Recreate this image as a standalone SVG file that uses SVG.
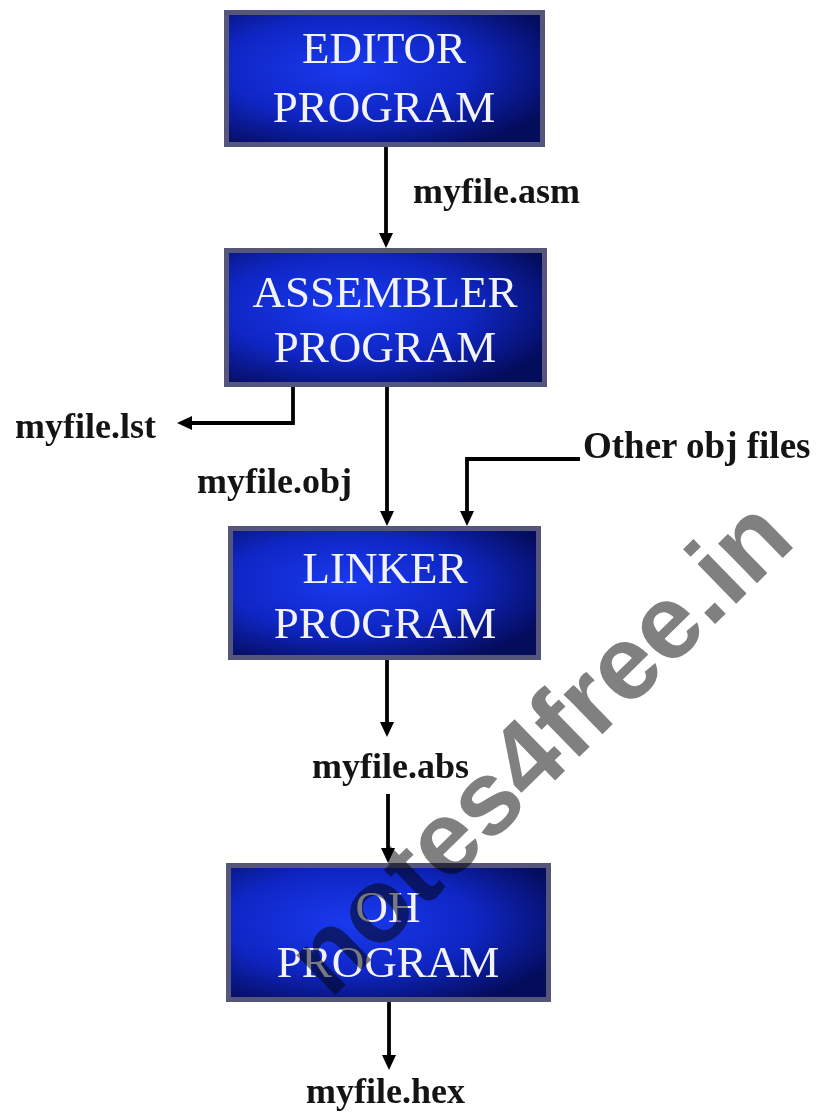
<svg xmlns="http://www.w3.org/2000/svg" width="820" height="1112" viewBox="0 0 820 1112">
<style>
.frame{fill:#56567a}
.inner{fill:url(#blue)}
.bt{font-family:"Liberation Serif","Times New Roman",serif;font-size:45px;fill:#f3f3f7;text-anchor:middle}
.lbl{font-family:"Liberation Serif","Times New Roman",serif;font-size:36px;font-weight:bold;fill:#141414}
.con{fill:none;stroke:#000;stroke-width:3.8;stroke-linejoin:miter}
.wm{font-family:"Liberation Sans",Arial,sans-serif;font-size:105px;font-weight:bold;fill:#808080;mix-blend-mode:multiply}
</style>
<defs>
<radialGradient id="blue" cx="0.38" cy="0.42" r="0.72">
<stop offset="0" stop-color="#1a3af0"/>
<stop offset="0.55" stop-color="#0f26c4"/>
<stop offset="1" stop-color="#040c5c"/>
</radialGradient>
<marker id="ah" markerUnits="userSpaceOnUse" markerWidth="15" markerHeight="15" viewBox="0 0 15 15" refX="1" refY="7.5" orient="auto">
<path d="M0,0.5 L15,7.5 L0,14.5 z" fill="#000"/>
</marker>
</defs>
<rect width="820" height="1112" fill="#fff"/>
<g id="editor">
<rect class="frame" x="224" y="10" width="321" height="137"/>
<rect class="inner" x="229" y="15" width="311" height="127"/>
<text class="bt" x="384" y="63">EDITOR</text>
<text class="bt" x="384" y="122">PROGRAM</text>
</g>
<g id="assembler">
<rect class="frame" x="224" y="248" width="323" height="139"/>
<rect class="inner" x="229" y="253" width="313" height="129"/>
<text class="bt" x="385" y="307">ASSEMBLER</text>
<text class="bt" x="385" y="362">PROGRAM</text>
</g>
<g id="linker">
<rect class="frame" x="228" y="526" width="313" height="134"/>
<rect class="inner" x="233" y="531" width="303" height="124"/>
<text class="bt" x="385" y="583">LINKER</text>
<text class="bt" x="385" y="638">PROGRAM</text>
</g>
<g id="oh">
<rect class="frame" x="226" y="863" width="325" height="139"/>
<rect class="inner" x="231" y="868" width="315" height="129"/>
<text class="bt" x="388" y="922">OH</text>
<text class="bt" x="388" y="977">PROGRAM</text>
</g>
<g id="connectors">
<path class="con" marker-end="url(#ah)" d="M386,147 L386,234"/>
<path class="con" marker-end="url(#ah)" d="M293,387 L293,423 L191,423"/>
<path class="con" marker-end="url(#ah)" d="M387,387 L387,512"/>
<path class="con" marker-end="url(#ah)" d="M580,459 L467,459 L467,512"/>
<path class="con" marker-end="url(#ah)" d="M387,660 L387,723"/>
<path class="con" marker-end="url(#ah)" d="M388,794 L388,849"/>
<path class="con" marker-end="url(#ah)" d="M389,1002 L389,1056"/>
</g>
<g id="labels">
<text class="lbl" x="413" y="203">myfile.asm</text>
<text class="lbl" x="15" y="438">myfile.lst</text>
<text class="lbl" x="197" y="493">myfile.obj</text>
<text class="lbl" x="583" y="458" style="font-size:37px">Other obj files</text>
<text class="lbl" x="312" y="778">myfile.abs</text>
<text class="lbl" x="306" y="1103">myfile.hex</text>
</g>
<g id="watermark">
<text class="wm" x="330" y="1000" transform="rotate(-44.3 330 1000)">notes4free.in</text>
</g>
</svg>
